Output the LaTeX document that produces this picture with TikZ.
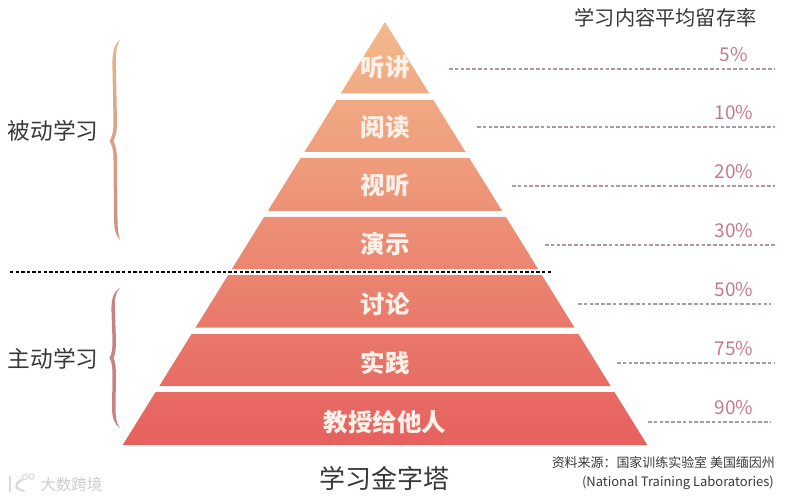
\documentclass[tikz,border=0pt]{standalone}
\usepackage{fontspec}
\setmainfont{Noto Sans CJK SC}
\usetikzlibrary{calc, positioning}

\definecolor{inkgray}{HTML}{383838}
\definecolor{ratepink}{HTML}{C47A8A}
\definecolor{dashgray}{HTML}{AD9A9E}
\definecolor{bandlight}{HTML}{F2B98B}
\definecolor{bandmid}{HTML}{EC967A}
\definecolor{banddark}{HTML}{E6605E}
\definecolor{bandtext}{HTML}{FCF1E8}

\tikzset{
  bandlabel/.style={font=\fontsize{24.5}{25}\selectfont\bfseries, text=bandtext, inner sep=0pt},
  sidelabel/.style={font=\fontsize{22.7}{23}\selectfont, text=inkgray, inner sep=0pt},
  ratelabel/.style={font=\fontsize{19}{19}\selectfont, text=ratepink, inner sep=0pt},
  rateline/.style={draw=dashgray, line width=1.3pt, dash pattern=on 3.6pt off 2.2pt},
  notelabel/.style={font=\fontsize{12.95}{13}\selectfont, text=inkgray, inner sep=0pt, anchor=east},
}

\begin{document}
\begin{tikzpicture}[x=1pt, y=-1pt]
\useasboundingbox (0,0) rectangle (788,500);
\def\xApex{385}
\def\yApex{22}
\def\kEdge{0.62}

% pyramid bands, one shading over the whole stack
\shade[top color=bandlight, middle color=bandmid, bottom color=banddark]
  (\xApex,\yApex) -- ({\xApex+\kEdge*(93.5-\yApex)},93.5) -- ({\xApex-\kEdge*(93.5-\yApex)},93.5) -- cycle
  \foreach \yT/\yB in {100/152, 158/211, 217/269, 275/327.5, 334/386, 392/445} {
    ({\xApex-\kEdge*(\yT-\yApex)},\yT) -- ({\xApex+\kEdge*(\yT-\yApex)},\yT)
    -- ({\xApex+\kEdge*(\yB-\yApex)},\yB) -- ({\xApex-\kEdge*(\yB-\yApex)},\yB) -- cycle
  };

% band texts
\node[bandlabel] (tingjiang) at (385,67) {听讲};
\node[bandlabel] (yuedu) at (385,127) {阅读};
\node[bandlabel] (shiting) at (385,185) {视听};
\node[bandlabel] (yanshi) at (385,244) {演示};
\node[bandlabel] (taolun) at (385,304) {讨论};
\node[bandlabel] (shijian) at (385,363) {实践};
\node[bandlabel] (jiaoshou) at (385,422) {教授给他人};

% passive / active divider
\coordinate (divL) at (10,272);
\coordinate (divR) at (553,272);
\draw[black, line width=1.3pt, dash pattern=on 3.4pt off 2.2pt] (divL) -- (divR);

% braces
\shade[top color=bandlight!90!gray, bottom color=bandmid!70!gray]
  (120,40) .. controls (113,45) and (112,55) .. (112.5,70)
  -- (113.5,122) .. controls (113.5,132) and (112,137) .. (109.5,141)
  .. controls (112,145) and (113.5,150) .. (113.5,160)
  -- (114,218) .. controls (114,228) and (115.5,235) .. (120,240)
  .. controls (118,234) and (117.5,228) .. (117.5,218)
  -- (117,160) .. controls (117,150) and (115.5,145) .. (113.5,141)
  .. controls (115.5,137) and (117,132) .. (117,122)
  -- (116,70) .. controls (115.5,55) and (116,46) .. (120,40) -- cycle;
\fill[banddark!60!gray!85!white]
  (120,288) .. controls (113,292) and (111,300) .. (111.5,312)
  -- (112.5,340) .. controls (112.5,348) and (112,354) .. (109.5,358)
  .. controls (112,362) and (112.5,368) .. (112.5,376)
  -- (112,408) .. controls (112,418) and (115,425) .. (120,428)
  .. controls (116.5,424) and (115.5,417) .. (115.5,408)
  -- (116,376) .. controls (116,368) and (115.5,362) .. (113.5,358)
  .. controls (115.5,354) and (116,348) .. (116,340)
  -- (115,312) .. controls (114.5,300) and (115,293) .. (120,288) -- cycle;

% left labels
\node[sidelabel] (passive) at (53,131) {被动学习};
\node[sidelabel] (active) at (53,359) {主动学习};

% retention column
\node[font=\fontsize{20.2}{21}\selectfont, text=inkgray, inner sep=0pt] (ratehead) at (665.5,18) {学习内容平均留存率};
\foreach \nm/\rate/\yT/\xL/\xR in {a/5/55/449/775, b/10/113/477/775, c/20/172/512/775, d/30/231/545/775, e/50/290/578/771, f/75/349/617/775, g/90/408/648/771} {
  \node[ratelabel] (rate\nm) at (734,\yT) {\rate\%};
  \coordinate (ln\nm) at (\xL,\yT+14);
  \coordinate (rn\nm) at (\xR,\yT+14);
  \draw[rateline] (ln\nm) -- (rn\nm);
}

% bottom texts
\node[font=\fontsize{26}{26}\selectfont, text=inkgray, inner sep=0pt] (title) at (384,479) {学习金字塔};
\node[notelabel] (source) at (775,463) {资料来源：国家训练实验室 美国缅因州};
\node[notelabel] (sourceen) at (774,483) {(National Training Laboratories)};

% watermark
\draw[gray!30, line width=2.2pt, line cap=round] (10,477) -- (10,491);
\draw[gray!30, line width=2.2pt, line cap=round] (22,480) .. controls (14,483) and (14,489) .. (24,491);
\draw[gray!30, line width=1.1pt] (25,477) circle (2.6);
\draw[gray!30, line width=1.1pt] (31.5,476.5) circle (2.6);
\node[font=\fontsize{15.5}{16}\selectfont, text=gray!40, inner sep=0pt] (mark) at (71.5,485) {大数跨境};
\end{tikzpicture}
\end{document}
